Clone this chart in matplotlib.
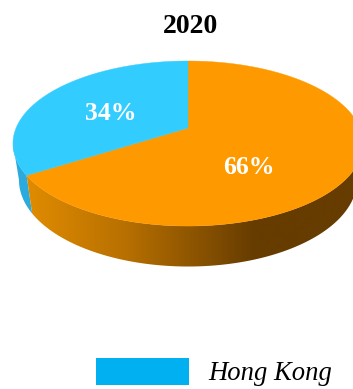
"""
plot.py
3D-style pie for 2020, drawn on a pixel-sized axes with a simple perspective projection.
"""

import numpy as np
import matplotlib.pyplot as plt
from matplotlib.colors import LinearSegmentedColormap
from matplotlib.patches import Patch, Polygon

title = "2020"
shares = [34, 66]
share_labels = ["34%", "66%"]
legend_labels = ["Hong Kong"]

TOP_COLORS = ["#33CCFF", "#FF9900"]
BLUE_SIDE = "#2BABDD"
LEGEND_BLUE = "#00B0F0"

# projection of the unit disc: top face and bottom rim
CX, CY = 188.0, 128.0
RX, RY = 171.9, 79.6
TILT = 0.188
BOTTOM_RX, BOTTOM_RY = 166.0, 83.4
DROP = 35.8
# fraction of the circle where the rim turns away on the left
LEFT_TURN = 0.72


def project(u, v, rx=RX, ry=RY, drop=0.0):
    w = 1 + TILT * v
    return CX + rx * u / w, CY + drop - ry * v / w


def arc(start, end, n=200):
    # fractions of the circle, clockwise from 12 o'clock
    a = 2 * np.pi * np.linspace(start, end, n)
    return np.sin(a), np.cos(a)


def wall_outline(start, end):
    u, v = arc(start, end)
    xt, yt = project(u, v)
    xb, yb = project(u, v, BOTTOM_RX, BOTTOM_RY, DROP)
    return np.r_[xt, xb[::-1]], np.r_[yt, yb[::-1]]


fig = plt.figure(figsize=(3.53, 3.89), dpi=100)
ax = fig.add_axes([0, 0, 1, 1])
ax.set_xlim(0, 353)
ax.set_ylim(389, 0)
ax.axis("off")

frac_orange = shares[1] / sum(shares)

# side walls: the visible blue bit, then the shaded orange rim
x, y = wall_outline(frac_orange, LEFT_TURN)
ax.add_patch(Polygon(np.c_[x, y], facecolor=BLUE_SIDE, edgecolor="none"))

shade = LinearSegmentedColormap.from_list(
    "rim", [(0, "#E08C00"), (0.3, "#B87000"), (0.7, "#663C00"), (1, "#663C00")]
)
x, y = wall_outline(0.25, frac_orange)
rim = Polygon(np.c_[x, y], transform=ax.transData, facecolor="none", edgecolor="none")
ax.add_patch(rim)
img = ax.imshow(
    np.linspace(0, 1, 256)[None, :], cmap=shade, extent=(27, 353, 389, 0),
    aspect="auto", zorder=1,
)
img.set_clip_path(rim)
ax.set_xlim(0, 353)
ax.set_ylim(389, 0)

# top surface, one wedge per share
start = 0.0
order = [1, 0]
for i in order:
    frac = shares[i] / sum(shares)
    u, v = arc(start, start + frac)
    xt, yt = project(u, v)
    cx0, cy0 = project(0.0, 0.0)
    ax.add_patch(Polygon(np.c_[np.r_[cx0, xt], np.r_[cy0, yt]], facecolor=TOP_COLORS[i],
                         edgecolor=TOP_COLORS[i], linewidth=0.3, zorder=2))
    start += frac

serif = "Liberation Serif"
ax.text(190, 26, title, ha="center", va="center", fontsize=20, fontweight="bold",
        family=serif, color="black", zorder=3)
ax.text(110.5, 113, share_labels[0], ha="center", va="center", fontsize=18.5, fontweight="bold",
        family=serif, color="white", zorder=3)
ax.text(249, 167, share_labels[1], ha="center", va="center", fontsize=18.5, fontweight="bold",
        family=serif, color="white", zorder=3)

handles = [Patch(facecolor=LEGEND_BLUE, edgecolor="none")]
ax.legend(handles, legend_labels, loc="center left", bbox_to_anchor=(96 / 353, 1 - 372 / 389),
          frameon=False, handlelength=3.5, handleheight=1.2, handletextpad=0.72,
          borderpad=0, borderaxespad=0,
          prop={"family": serif, "style": "italic", "size": 19.2})

fig.savefig("out.png", dpi=100)
plt.close(fig)
